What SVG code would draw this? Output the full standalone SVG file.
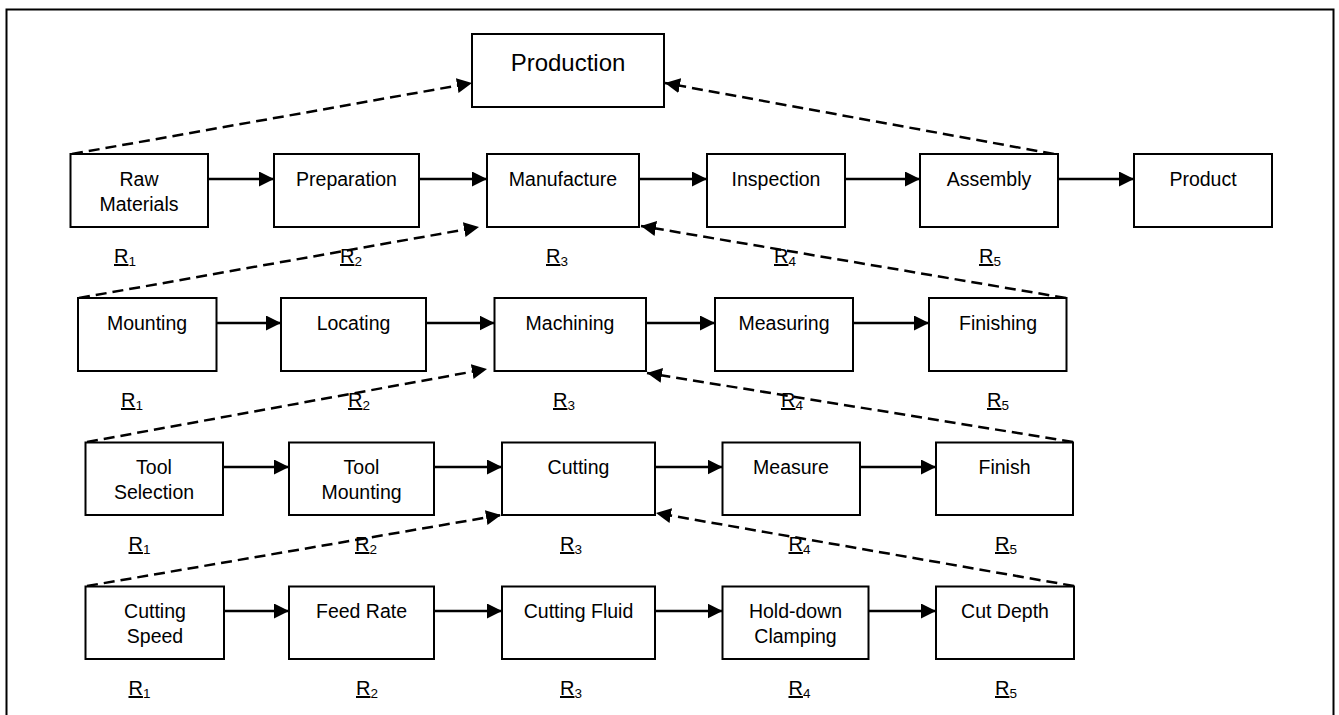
<svg xmlns="http://www.w3.org/2000/svg" width="1339" height="715" viewBox="0 0 1339 715">
<defs>
<marker id="ah" markerUnits="userSpaceOnUse" markerWidth="16" markerHeight="16" refX="15" refY="7.5" orient="auto">
<path d="M0,0 L15,7.5 L0,15 z" fill="#000"/>
</marker>
<style>
.box{fill:#fff;stroke:#000;stroke-width:2}
.t{font-family:"Liberation Sans",Arial,sans-serif;font-size:19.5px;fill:#000;text-anchor:middle}
.big{font-size:24px}
.r{font-family:"Liberation Sans",Arial,sans-serif;font-size:20px;fill:#000}
.u{text-decoration:underline}
.s{font-size:13.5px}
.solid{stroke:#000;stroke-width:2.5;fill:none;marker-end:url(#ah)}
.dash{stroke:#000;stroke-width:2.5;fill:none;stroke-dasharray:11 6;marker-end:url(#ah)}
</style>
</defs>
<rect x="0" y="0" width="1339" height="715" fill="#fff"/>
<rect x="6.5" y="9.5" width="1327" height="720" fill="none" stroke="#000" stroke-width="2"/>

<g id="connectors">
<line class="solid" x1="206" y1="179" x2="274" y2="179"/>
<line class="solid" x1="419" y1="179" x2="487" y2="179"/>
<line class="solid" x1="639" y1="179" x2="707" y2="179"/>
<line class="solid" x1="845" y1="179" x2="920" y2="179"/>
<line class="solid" x1="1058" y1="179" x2="1134" y2="179"/>
<line class="solid" x1="214" y1="323" x2="281" y2="323"/>
<line class="solid" x1="426" y1="323" x2="494.5" y2="323"/>
<line class="solid" x1="646" y1="323" x2="715" y2="323"/>
<line class="solid" x1="853" y1="323" x2="929" y2="323"/>
<line class="solid" x1="221" y1="467" x2="289" y2="467"/>
<line class="solid" x1="434" y1="467" x2="502" y2="467"/>
<line class="solid" x1="655" y1="467" x2="722.5" y2="467"/>
<line class="solid" x1="860" y1="467" x2="936" y2="467"/>
<line class="solid" x1="222" y1="611" x2="289" y2="611"/>
<line class="solid" x1="434" y1="611" x2="502" y2="611"/>
<line class="solid" x1="655" y1="611" x2="722.5" y2="611"/>
<line class="solid" x1="868" y1="611" x2="936" y2="611"/>
<line class="dash" x1="72" y1="154" x2="472" y2="83"/>
<line class="dash" x1="1054" y1="154" x2="665" y2="83"/>
<line class="dash" x1="79" y1="298" x2="479" y2="227"/>
<line class="dash" x1="1066" y1="298" x2="641" y2="226"/>
<line class="dash" x1="87" y1="442" x2="487" y2="369"/>
<line class="dash" x1="1073" y1="442" x2="647" y2="373"/>
<line class="dash" x1="87" y1="586" x2="501" y2="515"/>
<line class="dash" x1="1074" y1="586" x2="656" y2="513"/>
</g>

<g id="production"><rect class="box" x="472" y="34" width="192" height="73"/><text class="t big" x="568" y="71">Production</text></g>

<g id="raw-materials"><rect class="box" x="70.5" y="154" width="137.5" height="73"/><text class="t" x="139" y="186">Raw</text><text class="t" x="139" y="211">Materials</text></g>
<g id="preparation"><rect class="box" x="274" y="154" width="145" height="73"/><text class="t" x="346.5" y="186">Preparation</text></g>
<g id="manufacture"><rect class="box" x="487" y="154" width="152" height="73"/><text class="t" x="563" y="186">Manufacture</text></g>
<g id="inspection"><rect class="box" x="707" y="154" width="138" height="73"/><text class="t" x="776" y="186">Inspection</text></g>
<g id="assembly"><rect class="box" x="920" y="154" width="138" height="73"/><text class="t" x="989" y="186">Assembly</text></g>
<g id="product"><rect class="box" x="1134" y="154" width="138" height="73"/><text class="t" x="1203" y="186">Product</text></g>
<g id="r-row1">
<text class="r" x="114" y="263"><tspan class="u">R</tspan><tspan class="s" dy="3">1</tspan></text>
<text class="r" x="340" y="263"><tspan class="u">R</tspan><tspan class="s" dy="3">2</tspan></text>
<text class="r" x="546" y="263"><tspan class="u">R</tspan><tspan class="s" dy="3">3</tspan></text>
<text class="r" x="774" y="263"><tspan class="u">R</tspan><tspan class="s" dy="3">4</tspan></text>
<text class="r" x="979" y="263"><tspan class="u">R</tspan><tspan class="s" dy="3">5</tspan></text>
</g>

<g id="mounting"><rect class="box" x="78" y="298" width="138.5" height="73"/><text class="t" x="147" y="330">Mounting</text></g>
<g id="locating"><rect class="box" x="281" y="298" width="145" height="73"/><text class="t" x="353.5" y="330">Locating</text></g>
<g id="machining"><rect class="box" x="494.5" y="298" width="151.5" height="73"/><text class="t" x="570" y="330">Machining</text></g>
<g id="measuring"><rect class="box" x="715" y="298" width="138" height="73"/><text class="t" x="784" y="330">Measuring</text></g>
<g id="finishing"><rect class="box" x="929" y="298" width="137.5" height="73"/><text class="t" x="998" y="330">Finishing</text></g>
<g id="r-row2">
<text class="r" x="121" y="407"><tspan class="u">R</tspan><tspan class="s" dy="3">1</tspan></text>
<text class="r" x="348" y="407"><tspan class="u">R</tspan><tspan class="s" dy="3">2</tspan></text>
<text class="r" x="553" y="407"><tspan class="u">R</tspan><tspan class="s" dy="3">3</tspan></text>
<text class="r" x="781" y="407"><tspan class="u">R</tspan><tspan class="s" dy="3">4</tspan></text>
<text class="r" x="987" y="407"><tspan class="u">R</tspan><tspan class="s" dy="3">5</tspan></text>
</g>

<g id="tool-selection"><rect class="box" x="85.5" y="442.5" width="137.5" height="72.5"/><text class="t" x="154" y="474">Tool</text><text class="t" x="154" y="499">Selection</text></g>
<g id="tool-mounting"><rect class="box" x="289" y="442.5" width="145" height="72.5"/><text class="t" x="361.5" y="474">Tool</text><text class="t" x="361.5" y="499">Mounting</text></g>
<g id="cutting"><rect class="box" x="502" y="442.5" width="153" height="72.5"/><text class="t" x="578.5" y="474">Cutting</text></g>
<g id="measure"><rect class="box" x="722.5" y="442.5" width="137.5" height="72.5"/><text class="t" x="791" y="474">Measure</text></g>
<g id="finish"><rect class="box" x="936" y="442.5" width="137" height="72.5"/><text class="t" x="1004.5" y="474">Finish</text></g>
<g id="r-row3">
<text class="r" x="128.5" y="551"><tspan class="u">R</tspan><tspan class="s" dy="3">1</tspan></text>
<text class="r" x="355" y="551"><tspan class="u">R</tspan><tspan class="s" dy="3">2</tspan></text>
<text class="r" x="560" y="551"><tspan class="u">R</tspan><tspan class="s" dy="3">3</tspan></text>
<text class="r" x="788.5" y="551"><tspan class="u">R</tspan><tspan class="s" dy="3">4</tspan></text>
<text class="r" x="995" y="551"><tspan class="u">R</tspan><tspan class="s" dy="3">5</tspan></text>
</g>

<g id="cutting-speed"><rect class="box" x="85.5" y="586.5" width="138.5" height="72.5"/><text class="t" x="155" y="618">Cutting</text><text class="t" x="155" y="643">Speed</text></g>
<g id="feed-rate"><rect class="box" x="289" y="586.5" width="145" height="72.5"/><text class="t" x="361.5" y="618">Feed Rate</text></g>
<g id="cutting-fluid"><rect class="box" x="502" y="586.5" width="153" height="72.5"/><text class="t" x="578.5" y="618">Cutting Fluid</text></g>
<g id="hold-down-clamping"><rect class="box" x="722.5" y="586.5" width="146" height="72.5"/><text class="t" x="795.5" y="618">Hold-down</text><text class="t" x="795.5" y="643">Clamping</text></g>
<g id="cut-depth"><rect class="box" x="936" y="586.5" width="138" height="72.5"/><text class="t" x="1005" y="618">Cut Depth</text></g>
<g id="r-row4">
<text class="r" x="128.5" y="695"><tspan class="u">R</tspan><tspan class="s" dy="3">1</tspan></text>
<text class="r" x="356" y="695"><tspan class="u">R</tspan><tspan class="s" dy="3">2</tspan></text>
<text class="r" x="560" y="695"><tspan class="u">R</tspan><tspan class="s" dy="3">3</tspan></text>
<text class="r" x="788.5" y="695"><tspan class="u">R</tspan><tspan class="s" dy="3">4</tspan></text>
<text class="r" x="995" y="695"><tspan class="u">R</tspan><tspan class="s" dy="3">5</tspan></text>
</g>
</svg>
